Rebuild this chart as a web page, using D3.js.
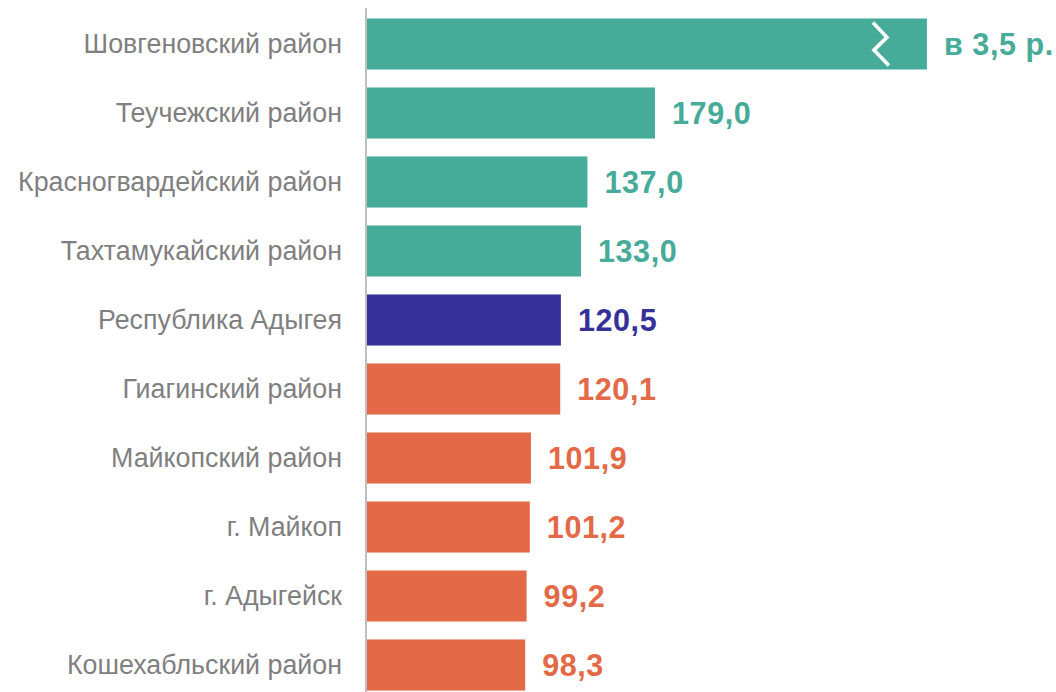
<!DOCTYPE html>
<html><head><meta charset="utf-8">
<script src="https://cdn.jsdelivr.net/npm/d3@7"></script>
<style>html,body{margin:0;padding:0;background:#fff;}svg{display:block;}</style>
</head><body>
<script>
const categories = ["Шовгеновский район","Теучежский район","Красногвардейский район","Тахтамукайский район","Республика Адыгея","Гиагинский район","Майкопский район","г. Майкоп","г. Адыгейск","Кошехабльский район"];
const values = [348, 179.0, 137.0, 133.0, 120.5, 120.1, 101.9, 101.2, 99.2, 98.3];
const valueLabels = ["в 3,5 р.","179,0","137,0","133,0","120,5","120,1","101,9","101,2","99,2","98,3"];
const groups = ["up","up","up","up","region","down","down","down","down","down"];
const brokenBars = [true,false,false,false,false,false,false,false,false,false];

const colors = {up:"#46AB98", region:"#353199", down:"#E36947"};
const W = 1056, H = 692;
const svg = d3.select("body").append("svg").attr("width", W).attr("height", H);

const y = d3.scaleBand().domain(categories).range([9.5, 699.5]).paddingInner(0.26).paddingOuter(0.13);
const x = d3.scaleLinear().domain([0, 179]).range([367, 655]);

// bars
svg.selectAll("rect.bar").data(categories).join("rect")
  .attr("class","bar")
  .attr("x", x(0))
  .attr("y", d => y(d))
  .attr("width", (d,i) => x(values[i]) - x(0))
  .attr("height", y.bandwidth())
  .attr("fill", (d,i) => colors[groups[i]]);

// break marks
categories.forEach((d,i) => {
  if (!brokenBars[i]) return;
  const xe = x(values[i]), y0 = y(d), bw = y.bandwidth();
  const pts = [[xe-54, y0+bw*0.08],[xe-40, y0+bw*0.37],[xe-53, y0+bw*0.62],[xe-38, y0+bw*0.92]];
  svg.append("path").attr("d", d3.line()(pts)).attr("fill","none")
    .attr("stroke","#fff").attr("stroke-width",3.6).attr("stroke-linejoin","miter");
});

// axis line
svg.append("line").attr("x1", 366).attr("x2", 366).attr("y1", 8).attr("y2", H)
  .attr("stroke", "#BFBFBF").attr("stroke-width", 2);

// category labels
svg.selectAll("text.cat").data(categories).join("text")
  .attr("class","cat")
  .attr("x", 342)
  .attr("y", d => y(d) + y.bandwidth()/2)
  .attr("dy","0.35em")
  .attr("text-anchor","end")
  .attr("font-family","'Liberation Sans', Arial, sans-serif")
  .attr("font-size", 26.8)
  .attr("fill","#7F7F7F")
  .text(d => d);

// value labels
svg.selectAll("text.val").data(categories).join("text")
  .attr("class","val")
  .attr("x", (d,i) => x(values[i]) + 17)
  .attr("y", d => y(d) + y.bandwidth()/2)
  .attr("dy","0.35em")
  .attr("font-family","'Liberation Sans', Arial, sans-serif")
  .attr("font-weight","bold")
  .attr("font-size", 30.5)
  .attr("letter-spacing", 0.6)
  .attr("fill", (d,i) => colors[groups[i]])
  .text((d,i) => valueLabels[i]);
</script>
</body></html>
